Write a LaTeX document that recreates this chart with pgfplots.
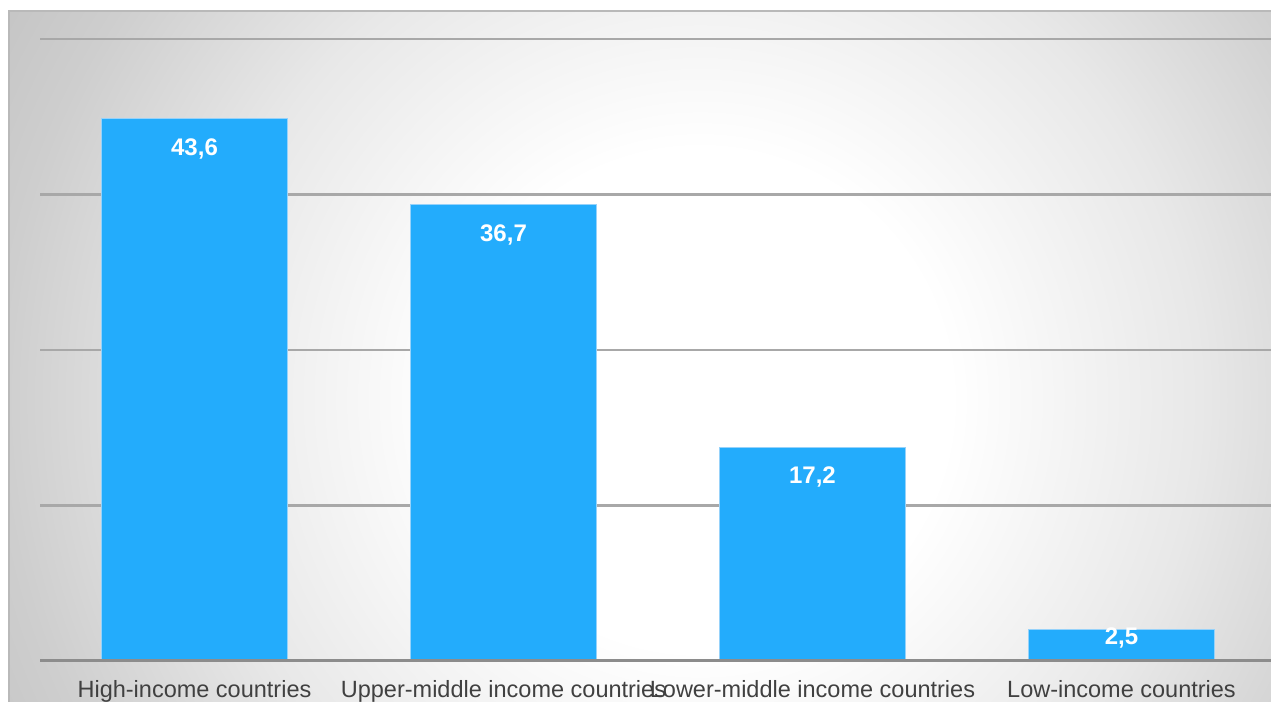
\documentclass[border=0pt]{standalone}
\usepackage{pgfplots}
\pgfplotsset{compat=1.18}
\usepackage{fontspec}
\setmainfont{Liberation Sans}
\definecolor{barblue}{RGB}{35,172,252}
\definecolor{baredge}{RGB}{150,210,250}
\definecolor{gridgray}{RGB}{168,168,168}
\definecolor{basegray}{RGB}{140,140,140}
\definecolor{labgray}{RGB}{64,64,64}
\definecolor{bgA}{RGB}{232,232,232}
\definecolor{bgB}{RGB}{206,206,206}
\definecolor{bgC}{RGB}{188,188,188}
\definecolor{bordergray}{RGB}{185,185,185}
\pgfdeclareradialshading{bgshade}{\pgfpoint{0bp}{0bp}}{color(0bp)=(white); color(6.25bp)=(white); color(12.5bp)=(bgA); color(17.5bp)=(bgB); color(22.5bp)=(bgC); color(50bp)=(bgC)}
\begin{document}
\begin{tikzpicture}[x=1bp,y=1bp]
\path[use as bounding box] (0,0) rectangle (1271,702);
\begin{scope}
\clip (9,0) rectangle (1271,691);
\shade[shading=bgshade] (-300,-698) rectangle (1700,1302);
\end{scope}
\draw[bordergray, line width=1.2bp] (9,0) -- (9,691) -- (1271,691);
\begin{axis}[
  at={(40bp,41bp)}, anchor=south west,
  scale only axis, width=1231bp, height=622bp,
  xmin=-0.5, xmax=3.484, ymin=0, ymax=50,
  ybar, bar width=186bp,
  axis line style={draw=none},
  tick style={draw=none},
  ytick={0,12.5,25,37.5,50}, yticklabels={},
  ymajorgrids, grid style={gridgray, line width=2.5bp},
  xtick={0,1,2,3},
  xticklabels={High-income countries, Upper-middle income countries, Lower-middle income countries, Low-income countries},
  xticklabel style={anchor=base, yshift=-32.5bp, text=labgray, font=\fontsize{23.5bp}{28bp}\selectfont},
  clip=false,
]
\addplot[fill=barblue, draw=baredge, line width=1bp,
  visualization depends on={rawy \as \rawy},
  nodes near coords={\pgfmathprintnumber[assume math mode=true, use comma, fixed, fixed zerofill, precision=1]{\pgfplotspointmeta}},
  every node near coord/.append style={anchor=north, inner sep=0pt, text=white,
    font=\fontsize{24bp}{28bp}\selectfont\bfseries,
    yshift={ifthenelse(\rawy<10,3,-19.5)}}
] coordinates {(0,43.6) (1,36.7) (2,17.2) (3,2.5)};
\draw[basegray, line width=3bp] (axis cs:-0.5,0) -- (axis cs:3.484,0);
\end{axis}
\end{tikzpicture}
\end{document}
